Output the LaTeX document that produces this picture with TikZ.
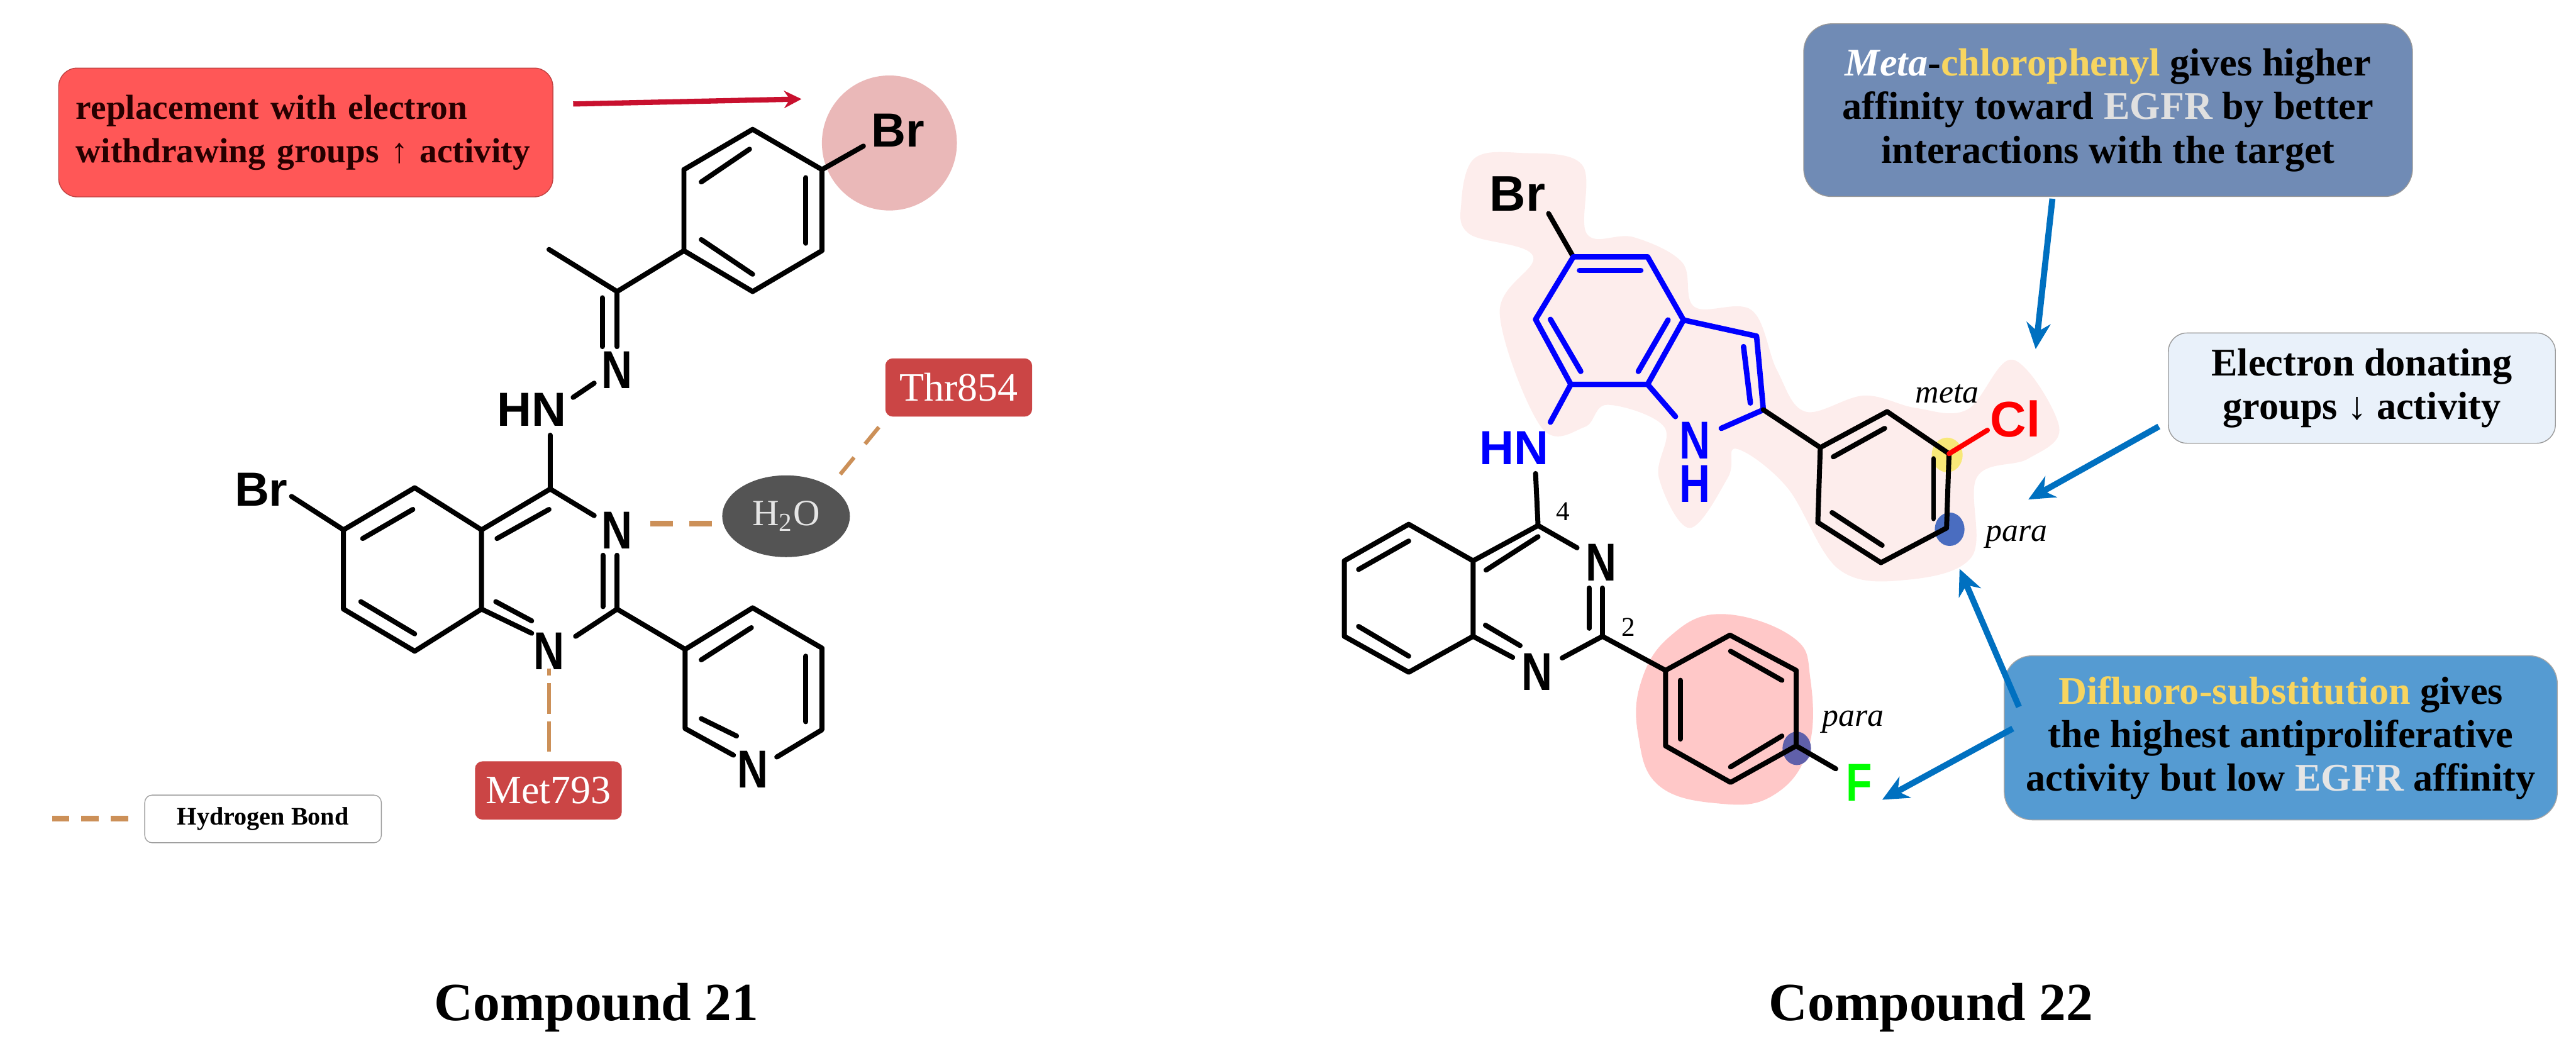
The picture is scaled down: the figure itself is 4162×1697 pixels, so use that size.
\documentclass[tikz,border=0pt]{standalone}
\usepackage{fontspec}
\setmainfont{Liberation Serif}
\newfontfamily\atomfont{Liberation Sans}
\newfontfamily\tallatomfont[FakeStretch=.8]{Liberation Sans}
\usetikzlibrary{arrows.meta,shapes.geometric}
\definecolor{boxred}{HTML}{FF5757}
\definecolor{boxslate}{HTML}{708BB5}
\definecolor{boxpale}{HTML}{E9F1FA}
\definecolor{boxblue}{HTML}{559BD2}
\definecolor{residue}{HTML}{CB4545}
\definecolor{bondtan}{HTML}{CC9058}
\definecolor{callblue}{HTML}{0070C0}
\definecolor{hlpale}{HTML}{FDEDEC}
\definecolor{hlpink}{HTML}{FFC8C8}
\definecolor{hlhalo}{HTML}{EAB8B8}
\definecolor{sitemeta}{HTML}{F8E878}
\definecolor{sitepara}{HTML}{4A6DC0}
\definecolor{siteparalow}{HTML}{6060AA}
\definecolor{arrowred}{HTML}{C8102E}
\definecolor{titleyellow}{HTML}{F7D560}
\tikzset{
    bond/.style={line width=2.3pt, line cap=round, line join=round},
    bluebond/.style={line width=2.5pt, line cap=round, line join=round, blue},
    atom/.style={inner sep=0pt, font=\atomfont\bfseries\fontsize{22}{22}\selectfont},
    tallatom/.style={inner sep=0pt, font=\tallatomfont\bfseries\fontsize{24.5}{20}\selectfont},
    note/.style={rounded corners=.45cm, inner sep=0pt, align=center, font=\bfseries\fontsize{18}{20}\selectfont},
    residuebox/.style={rounded corners=.12cm, fill=residue, text=white, inner sep=0pt, minimum width=2.37cm, minimum height=.94cm, font=\fontsize{18.5}{18.5}\selectfont},
    hbond/.style={bondtan, line width=1.8pt},
    callarrow/.style={callblue, line width=2.8pt, -{Stealth[length=12pt,width=11pt]}},
    tag/.style={inner sep=0pt, font=\itshape\fontsize{15}{15}\selectfont},
    sitenum/.style={inner sep=0pt, font=\fontsize{12.5}{12.5}\selectfont},
    caption/.style={inner sep=0pt, font=\bfseries\fontsize{24.7}{24.7}\selectfont}
}
\begin{document}
\begin{tikzpicture}[x=.01cm, y=-.01cm]
    \useasboundingbox (0,0) rectangle (4162,1697);

    \fill[hlpale] plot[smooth cycle, tension=.6] coordinates {(2456,247) (2556,266) (2564,378) (2639,383) (2718,424) (2738,496) (2830,501) (2871,598) (2917,665) (3012,639) (3095,659) (3178,662) (3252,581) (3327,690) (3277,741) (3194,771) (3186,899) (3078,937) (2970,919) (2887,787) (2805,725) (2792,771) (2730,853) (2680,771) (2689,690) (2597,654) (2560,690) (2490,690) (2423,506) (2477,414) (2374,378) (2361,327) (2382,256)};
    \fill[hlpink] plot[smooth cycle, tension=.7] coordinates {(2780,992) (2896,1029) (2925,1097) (2921,1212) (2863,1286) (2776,1298) (2680,1269) (2647,1189) (2651,1103) (2697,1029)};
    \node[circle, fill=hlhalo, inner sep=0pt, minimum size=2.18cm] (halo) at (1437,231) {};
    \fill[sitemeta] (3146,735) ellipse (25 and 28);
    \fill[sitepara] (3150,855) ellipse (24 and 27);
    \fill[siteparalow] (2903,1209) ellipse (23 and 27);

    % compound 21
    \coordinate (pa) at (1216,209);
    \coordinate (pb) at (1328,274);
    \coordinate (pc) at (1328,405);
    \coordinate (pd) at (1216,471);
    \coordinate (pe) at (1105,405);
    \coordinate (pf) at (1105,274);
    \coordinate (pbr) at (1395,236);
    \coordinate (ci) at (997,471);
    \coordinate (me) at (887,403);
    \coordinate (ca) at (889,790);
    \coordinate (cb) at (778,856);
    \coordinate (cc) at (670,788);
    \coordinate (cd) at (555,856);
    \coordinate (ce) at (555,984);
    \coordinate (cf) at (670,1052);
    \coordinate (cg) at (778,984);
    \coordinate (ch) at (997,984);
    \coordinate (ya) at (1216,982);
    \coordinate (yb) at (1328,1047);
    \coordinate (yc) at (1328,1179);
    \coordinate (ye) at (1107,1177);
    \coordinate (yf) at (1107,1049);

    \node[atom] (brtop) at (1451,211) {Br};
    \node[tallatom] (nimine) at (997,598) {N};
    \node[atom] (hnleft) at (859,662) {HN};
    \node[atom] (brleft) at (422,791) {Br};
    \node[tallatom] (nthree) at (997,857) {N};
    \node[tallatom] (none) at (887,1052) {N};
    \node[tallatom] (npy) at (1216,1243) {N};

    \draw[bond] (pa) -- (pb) -- (pc) -- (pd) -- (pe) -- (pf) -- cycle;
    \draw[bond] (pb) -- (pbr);
    \draw[bond] (1302,287) -- (1302,393);
    \draw[bond] (1133,294) -- (1211,241);
    \draw[bond] (1133,387) -- (1216,443);
    \draw[bond] (me) -- (ci) -- (pe);
    \draw[bond] (ci) -- (997,560);
    \draw[bond] (973,481) -- (973,560);
    \draw[bond] (960,619) -- (926,642);
    \draw[bond] (889,703) -- (ca);
    \draw[bond] (ca) -- (cb) -- (cc) -- (cd) -- (ce) -- (cf) -- (cg) -- (cb);
    \draw[bond] (ca) -- (960,833);
    \draw[bond] (471,802) -- (cd);
    \draw[bond] (586,870) -- (667,823);
    \draw[bond] (803,870) -- (887,823);
    \draw[bond] (583,972) -- (670,1024);
    \draw[bond] (ch) -- (997,897);
    \draw[bond] (974,897) -- (974,980);
    \draw[bond] (cg) -- (859,1023);
    \draw[bond] (801,972) -- (859,1003);
    \draw[bond] (930,1028) -- (ch);
    \draw[bond] (ch) -- (yf);
    \draw[bond] (yf) -- (ya) -- (yb) -- (yc) -- (1255,1223);
    \draw[bond] (yf) -- (ye) -- (1185,1220);
    \draw[bond] (1133,1066) -- (1214,1014);
    \draw[bond] (1302,1060) -- (1302,1166);
    \draw[bond] (1133,1161) -- (1190,1189);

    \node[note, fill=boxred, draw=boxred!75!black, rounded corners=.3cm, minimum width=7.98cm, minimum height=2.08cm, text width=7.42cm, align=left, font=\bfseries\fontsize{16}{20}\selectfont, text=black!85!red] (replace) at (494,214) {replacement with electron\\withdrawing groups ↑ activity};
    \coordinate (redend) at (1295,160);
    \draw[arrowred, line width=2.4pt, -{Stealth[length=8pt,width=8pt]}] (926,168) -- (redend);

    \node[ellipse, fill=black!67, text=white!90!black, inner sep=0pt, minimum width=2.06cm, minimum height=1.32cm, font=\fontsize{17}{17}\selectfont] (water) at (1270,834) {H\textsubscript{2}O};
    \node[residuebox] (thr) at (1549,626) {Thr854};
    \node[residuebox] (met) at (886,1277) {Met793};
    \draw[hbond, line width=2.4pt, dash pattern=on 10.2pt off 7.7pt] (1051,846) -- (1150,846);
    \draw[hbond, dash pattern=on 10pt off 8pt] (1420,690) -- (1357,767);
    \draw[hbond, dash pattern=on 14pt off 3.5pt, dash phase=10.8pt] (887,1080) -- (887,1226);
    \draw[hbond, line width=2.6pt, dash pattern=on 8pt off 5.5pt] (84,1322) -- (209,1322);
    \node[note, draw=gray!75, fill=white, rounded corners=.12cm, minimum width=3.82cm, minimum height=.77cm, font=\bfseries\fontsize{11.6}{12}\selectfont] (legend) at (425,1323) {Hydrogen Bond};

    \node[caption] (capleft) at (964,1628) {Compound 21};

    % compound 22
    \coordinate (ia) at (2542,415);
    \coordinate (ib) at (2662,415);
    \coordinate (ic) at (2720,517);
    \coordinate (id) at (2662,621);
    \coordinate (ie) at (2538,621);
    \coordinate (if) at (2481,516);
    \coordinate (ig) at (2838,543);
    \coordinate (ih) at (2849,662);
    \coordinate (ra) at (2941,723);
    \coordinate (rb) at (3049,665);
    \coordinate (rc) at (3149,733);
    \coordinate (rd) at (3145,853);
    \coordinate (re) at (3039,909);
    \coordinate (rf) at (2937,844);
    \coordinate (qa) at (2485,849);
    \coordinate (qb) at (2380,906);
    \coordinate (qc) at (2276,847);
    \coordinate (qd) at (2172,906);
    \coordinate (qe) at (2172,1028);
    \coordinate (qf) at (2276,1086);
    \coordinate (qg) at (2380,1028);
    \coordinate (qh) at (2589,1028);
    \coordinate (fa) at (2691,1083);
    \coordinate (fb) at (2795,1026);
    \coordinate (fc) at (2902,1083);
    \coordinate (fd) at (2902,1205);
    \coordinate (fe) at (2796,1264);
    \coordinate (ff) at (2691,1205);

    \node[atom, font=\atomfont\bfseries\fontsize{23}{23}\selectfont] (brright) at (2452,313) {Br};
    \node[atom, blue] (hnright) at (2446,724) {HN};
    \node[tallatom, blue, align=center] (nhright) at (2738,747) {N\\H};
    \node[atom, red, font=\atomfont\bfseries\fontsize{23}{23}\selectfont] (cl) at (3256,677) {Cl};
    \node[tallatom] (qnthree) at (2587,909) {N};
    \node[tallatom] (qnone) at (2483,1086) {N};
    \node[tallatom, green] (fluoro) at (3004,1264) {F};

    \draw[bond] (2502,345) -- (ia);
    \draw[bluebond] (ia) -- (ib) -- (ic) -- (id) -- (ie) -- (if) -- cycle;
    \draw[bluebond] (ic) -- (ig) -- (ih) -- (2781,692);
    \draw[bluebond] (id) -- (2707,673);
    \draw[bluebond] (ie) -- (2505,682);
    \draw[bluebond] (2552,437) -- (2651,437);
    \draw[bluebond] (2695,517) -- (2647,600);
    \draw[bluebond] (2505,516) -- (2554,600);
    \draw[bluebond] (2817,560) -- (2828,651);
    \draw[bond] (ih) -- (ra);
    \draw[bond] (ra) -- (rb) -- (rc) -- (rd) -- (re) -- (rf) -- cycle;
    \draw[bond] (2962,738) -- (3045,692);
    \draw[bond] (3124,741) -- (3124,838);
    \draw[bond] (2960,828) -- (3041,881);
    \draw[bond, red] (rc) -- (3211,695);
    \draw[bond] (2481,765) -- (qa);
    \draw[bond] (qa) -- (qb) -- (qc) -- (qd) -- (qe) -- (qf) -- (qg) -- (qb);
    \draw[bond] (2195,920) -- (2276,874);
    \draw[bond] (2401,921) -- (2485,867);
    \draw[bond] (2195,1012) -- (2276,1060);
    \draw[bond] (qa) -- (2548,885);
    \draw[bond] (qh) -- (2589,950);
    \draw[bond] (2568,950) -- (2568,1015);
    \draw[bond] (qg) -- (2444,1062);
    \draw[bond] (2400,1010) -- (2456,1043);
    \draw[bond] (2524,1063) -- (qh) -- (fa);
    \draw[bond] (fa) -- (fb) -- (fc) -- (fd) -- (fe) -- (ff) -- cycle;
    \draw[bond] (2715,1099) -- (2715,1194);
    \draw[bond] (2796,1052) -- (2879,1099);
    \draw[bond] (2879,1189) -- (2796,1239);
    \draw[bond] (fd) -- (2966,1242);

    \node[tag] (meta) at (3146,636) {meta};
    \node[tag] (paraup) at (3258,868) {para};
    \node[tag] (paralow) at (2994,1166) {para};
    \node[sitenum] (sitefour) at (2525,826) {4};
    \node[sitenum] (sitetwo) at (2631,1013) {2};

    \node[note, fill=boxslate, draw=gray!80, minimum width=9.83cm, minimum height=2.79cm] (topnote) at (3406,178) {\textcolor{white}{\textit{Meta}}-\textcolor{titleyellow}{chlorophenyl} gives higher\\affinity toward \textcolor{white!88!black}{EGFR} by better\\interactions with the target};
    \node[note, fill=boxpale, draw=gray!80, rounded corners=.3cm, minimum width=6.25cm, minimum height=1.78cm] (donor) at (3816,627) {Electron donating\\groups ↓ activity};
    \node[note, fill=boxblue, draw=gray!70, minimum width=8.93cm, minimum height=2.65cm] (fluoronote) at (3685,1192) {\textcolor{titleyellow}{Difluoro-substitution} gives\\the highest antiproliferative\\activity but low \textcolor{white!90!black}{EGFR} affinity};

    \coordinate (hita) at (3289,564);
    \coordinate (hitb) at (3277,807);
    \coordinate (hitc) at (3166,919);
    \coordinate (hitd) at (3041,1292);
    \draw[callarrow] (3316,321) -- (hita);
    \draw[callarrow] (3488,689) -- (hitb);
    \draw[callarrow] (3262,1142) -- (hitc);
    \draw[callarrow] (3252,1177) -- (hitd);

    \node[caption] (capright) at (3120,1628) {Compound 22};
\end{tikzpicture}
\end{document}
